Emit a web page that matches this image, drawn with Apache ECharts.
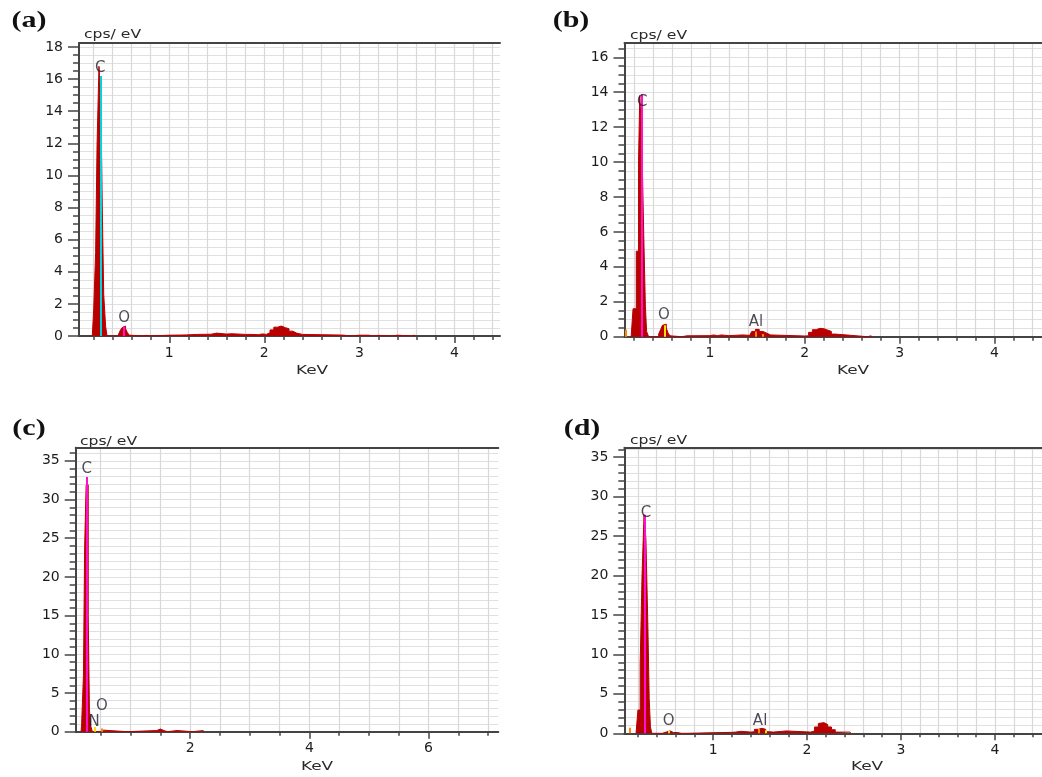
<!DOCTYPE html>
<html>
<head>
<meta charset="utf-8">
<script src="https://cdn.jsdelivr.net/npm/echarts/dist/echarts.min.js"></script>
<style>
html,body{margin:0;padding:0;background:#fff;}
#chart{width:1042px;height:777px;}
</style>
</head>
<body>
<div id="chart"></div>
<script>
// ================= DATA =================
const panelLetters = ['(a)', '(b)', '(c)', '(d)'];
const yAxisTitle = 'cps/ eV';
const xAxisTitle = 'KeV';

// axis ranges [min, max]
const xRangeA = [0.05, 4.48], yRangeA = [0, 18.25];
const xRangeB = [0.1, 4.5],  yRangeB = [0, 16.82];
const xRangeC = [0.08, 7.17], yRangeC = [0, 36.7];
const xRangeD = [0.055, 4.5], yRangeD = [0, 36.2];

// tick labels
const xMajorA = [1, 2, 3, 4];
const xMajorB = [1, 2, 3, 4];
const xMajorC = [2, 4, 6];
const xMajorD = [1, 2, 3, 4];
const yMajorA = [0, 2, 4, 6, 8, 10, 12, 14, 16, 18];
const yMajorB = [0, 2, 4, 6, 8, 10, 12, 14, 16];
const yMajorC = [0, 5, 10, 15, 20, 25, 30, 35];
const yMajorD = [0, 5, 10, 15, 20, 25, 30, 35];
// minor tick spacing [x, y]
const minorStepA = [0.2, 0.5];
const minorStepB = [0.2, 0.5];
const minorStepC = [0.5, 1];
const minorStepD = [0.2, 1];

// spectra [keV, cps/eV]
const spectrumA = [
  [0.19,0],[0.205,1.7],[0.225,5.2],[0.24,11.9],[0.26,16.8],[0.28,14.8],[0.295,7.9],[0.31,2.6],[0.33,0.6],[0.345,0],
  [0.46,0.1],[0.48,0.3],[0.50,0.5],[0.52,0.62],[0.54,0.45],[0.56,0.2],[0.58,0.05],[0.60,0],
  [0.72,0],[0.74,0.04],[0.76,0],[0.80,0.05],[1.0,0.06],[1.12,0.07],[1.18,0.1],[1.3,0.11],[1.44,0.12],[1.46,0.18],
  [1.5,0.12],[1.6,0.1],[1.62,0.14],[1.66,0.1],[1.8,0.1],[1.86,0.08],[1.94,0.13],[1.98,0.1],[2.02,0.2],[2.06,0.38],
  [2.10,0.55],[2.14,0.62],[2.18,0.52],[2.22,0.45],[2.26,0.3],[2.30,0.18],[2.34,0.1],[2.4,0.06],[2.8,0.05],[2.84,0],
  [2.9,0.05],[3.0,0],[3.02,0.05],[3.1,0],[3.14,0.04],[3.2,0],[3.34,0.05],[3.4,0],[3.54,0.05],[3.58,0]
];
const spectrumB = [
  [0.17,0],[0.19,1.6],[0.224,4.9],[0.248,10.1],[0.261,13.8],[0.282,11.4],[0.303,5.8],[0.32,1.75],[0.333,0.3],[0.354,0],
  [0.46,0.15],[0.48,0.4],[0.50,0.65],[0.52,0.72],[0.54,0.5],[0.56,0.2],[0.58,0.05],[0.60,0],
  [0.70,0],[0.72,0.05],[0.76,0],[0.78,0.06],[1.0,0.06],[1.02,0.1],[1.04,0.06],[1.08,0.1],[1.12,0.06],[1.2,0.1],
  [1.34,0.08],[1.42,0.12],[1.44,0.3],[1.48,0.42],[1.52,0.3],[1.56,0.2],[1.6,0.1],[1.64,0.04],[2.0,0.05],[2.04,0.25],
  [2.08,0.4],[2.12,0.48],[2.16,0.46],[2.2,0.38],[2.24,0.3],[2.28,0.15],[2.32,0.08],[2.48,0],[2.66,0.05],[2.7,0]
];
const spectrumC = [
  [0.17,0],[0.18,1.1],[0.21,7.3],[0.23,23.9],[0.255,31.9],[0.29,15.0],[0.31,2.9],[0.33,0.8],[0.36,0],
  [0.5,0.2],[0.55,0],
  [0.94,0],[0.96,0.15],[1.44,0.15],[1.46,0.35],[1.5,0.15],[1.56,0],[1.62,0.15],[1.78,0],[2.04,0.15],[2.22,0]
];
const spectrumD = [
  [0.18,0],[0.20,2.95],[0.224,8.8],[0.244,20.1],[0.265,27.7],[0.285,24.6],[0.306,13.5],[0.32,4.4],[0.333,0.85],[0.347,0],
  [0.46,0],[0.48,0.15],[0.5,0.3],[0.54,0.25],[0.56,0.1],[0.58,0],[0.60,0.1],[0.62,0],[0.66,0.1],[0.68,0],
  [0.72,0.12],[1.2,0.15],[1.24,0.25],[1.30,0.15],[1.40,0.2],[1.44,0.5],[1.48,0.63],[1.52,0.5],[1.56,0.2],[1.60,0.15],
  [1.64,0.3],[1.78,0.15],[2.04,0.3],[2.08,0.8],[2.12,1.25],[2.14,1.35],[2.18,1.1],[2.22,0.8],[2.26,0.45],[2.30,0.15],[2.46,0]
];

// element marker lines [keV, height]
const markersA = [[0.277, 16.2], [0.525, 0.6]];
const markersB = [[0.11, 0.4], [0.277, 13.9], [0.525, 0.65], [1.486, 0.3], [1.557, 0.15]];
const markersC = [[0.262, 32.9], [0.392, 0.6], [0.525, 0.4]];
const markersD = [[0.11, 0.7], [0.277, 27.7], [0.525, 0.3], [1.486, 0.55], [1.557, 0.4]];

// element labels [text, keV, cps/eV]
const elementLabelsA = [['C', 0.274, 16.67], ['O', 0.526, 1.1]];
const elementLabelsB = [['C', 0.286, 13.46], ['O', 0.516, 1.24], ['Al', 1.486, 0.86]];
const elementLabelsC = [['C', 0.267, 33.9], ['N', 0.39, 1.2], ['O', 0.52, 3.3]];
const elementLabelsD = [['C', 0.285, 27.97], ['O', 0.526, 1.56], ['Al', 1.50, 1.56]];

// ================= STYLE / LAYOUT =================
const CYAN = '#00d4dc', MAGENTA = '#ff10d0', YELLOW = '#ffe000', ORANGE = '#ff8a00';
const layout = [
  { rect: {left: 79, top: 43, width: 421, height: 293},
    markerColors: [CYAN, MAGENTA],
    letterPos: [29, 21], ytPos: [84, 35], xtPos: [312, 371] },
  { rect: {left: 624.5, top: 43, width: 426.5, height: 293.7},
    markerColors: [ORANGE, MAGENTA, YELLOW, ORANGE, ORANGE],
    letterPos: [571, 21], ytPos: [630, 36], xtPos: [853, 371] },
  { rect: {left: 75.7, top: 447.7, width: 422.6, height: 284},
    markerColors: [MAGENTA, YELLOW, ORANGE],
    letterPos: [29, 429], ytPos: [80, 441.5], xtPos: [317, 766.5] },
  { rect: {left: 624.3, top: 447.7, width: 431, height: 285.6},
    markerColors: [ORANGE, MAGENTA, YELLOW, ORANGE, YELLOW],
    letterPos: [582, 429], ytPos: [630, 441], xtPos: [867, 766.5] }
];
const FILL = '#b80000';
const AXIS_COLOR = '#444444';
const GRID_COLOR = '#d8d8d8';
const FONT = '"DejaVu Sans", Verdana, sans-serif';

const panels = [
  {xRange: xRangeA, yRange: yRangeA, xMajor: xMajorA, yMajor: yMajorA, minor: minorStepA, spectrum: spectrumA, markers: markersA, labels: elementLabelsA},
  {xRange: xRangeB, yRange: yRangeB, xMajor: xMajorB, yMajor: yMajorB, minor: minorStepB, spectrum: spectrumB, markers: markersB, labels: elementLabelsB},
  {xRange: xRangeC, yRange: yRangeC, xMajor: xMajorC, yMajor: yMajorC, minor: minorStepC, spectrum: spectrumC, markers: markersC, labels: elementLabelsC},
  {xRange: xRangeD, yRange: yRangeD, xMajor: xMajorD, yMajor: yMajorD, minor: minorStepD, spectrum: spectrumD, markers: markersD, labels: elementLabelsD}
];

function ticksWithin(range, step) {
  const out = [];
  const start = Math.ceil((range[0] - 1e-9) / step);
  for (let k = start; k * step <= range[1] + 1e-9; k++) out.push(Math.round(k * step * 1000) / 1000);
  return out;
}

const grid = [], xAxis = [], yAxis = [], series = [], graphic = [];

panels.forEach((p, i) => {
  const L = layout[i];
  grid.push(Object.assign({containLabel: false}, L.rect));
  const xMinor = ticksWithin(p.xRange, p.minor[0]);
  const yMinor = ticksWithin(p.yRange, p.minor[1]);
  const base = {gridIndex: i, type: 'value', min: p.xRange[0], max: p.xRange[1], silent: true};
  // minor ticks + grid lines + axis line
  xAxis.push(Object.assign({}, base, {
    position: 'bottom',
    axisLine: {show: true, onZero: false, lineStyle: {color: AXIS_COLOR, width: 2}},
    axisTick: {show: true, customValues: xMinor, length: 4, lineStyle: {color: AXIS_COLOR, width: 1.5}},
    axisLabel: {show: false},
    splitLine: {show: true, lineStyle: {color: GRID_COLOR, width: 1.2}}
  }));
  // major ticks + labels
  xAxis.push(Object.assign({}, base, {
    position: 'bottom',
    axisLine: {show: false, onZero: false},
    axisTick: {show: true, customValues: p.xMajor, length: 7, lineStyle: {color: AXIS_COLOR, width: 1.5}},
    axisLabel: {show: true, customValues: p.xMajor, margin: 10, color: '#1c1c1c', fontFamily: FONT, fontSize: 14},
    splitLine: {show: false}
  }));
  // top border
  xAxis.push(Object.assign({}, base, {
    position: 'top',
    axisLine: {show: true, onZero: false, lineStyle: {color: AXIS_COLOR, width: 2}},
    axisTick: {show: false}, axisLabel: {show: false}, splitLine: {show: false}
  }));
  const ybase = {gridIndex: i, type: 'value', min: p.yRange[0], max: p.yRange[1], position: 'left', silent: true};
  yAxis.push(Object.assign({}, ybase, {
    axisLine: {show: true, onZero: false, lineStyle: {color: AXIS_COLOR, width: 2}},
    axisTick: {show: true, customValues: yMinor, length: 6, lineStyle: {color: AXIS_COLOR, width: 1.5}},
    axisLabel: {show: false},
    splitLine: {show: true, lineStyle: {color: '#e0e0e0', width: 1.2}}
  }));
  yAxis.push(Object.assign({}, ybase, {
    axisLine: {show: false, onZero: false},
    axisTick: {show: true, customValues: p.yMajor, length: 11, lineStyle: {color: AXIS_COLOR, width: 1.5}},
    axisLabel: {show: true, customValues: p.yMajor, margin: 16, color: '#1c1c1c', fontFamily: FONT, fontSize: 14},
    splitLine: {show: false}
  }));

  const xi = i * 3, yi = i * 2;
  series.push({
    type: 'line', xAxisIndex: xi, yAxisIndex: yi,
    data: p.spectrum, step: 'end', symbol: 'none', silent: true,
    lineStyle: {color: FILL, width: 1},
    areaStyle: {color: FILL, opacity: 1},
    markLine: {
      silent: true, symbol: ['none', 'none'], label: {show: false},
      data: p.markers.map((m, k) => [
        {coord: [m[0], 0], lineStyle: {color: L.markerColors[k], width: 2, type: 'solid'}},
        {coord: [m[0], m[1]]}
      ])
    }
  });
  series.push({
    type: 'scatter', xAxisIndex: xi, yAxisIndex: yi, symbolSize: 0, silent: true, z: 5,
    data: p.labels.map(l => ({name: l[0], value: [l[1], l[2]]})),
    label: {show: true, position: 'inside', formatter: '{b}', color: '#231c2c',
            fontFamily: FONT, fontSize: 15}
  });

  graphic.push({type: 'text', x: L.letterPos[0], y: L.letterPos[1], scaleX: 1.25,
    style: {text: panelLetters[i], font: 'bold 24px "Liberation Serif", "Times New Roman", serif',
            fill: '#111', textAlign: 'center', textVerticalAlign: 'middle'}});
  graphic.push({type: 'text', x: L.ytPos[0], y: L.ytPos[1], scaleX: 1.2,
    style: {text: yAxisTitle, font: '13px ' + FONT, fill: '#2a2a2a', textAlign: 'left', textVerticalAlign: 'middle'}});
  graphic.push({type: 'text', x: L.xtPos[0], y: L.xtPos[1], scaleX: 1.3,
    style: {text: xAxisTitle, font: '13px ' + FONT, fill: '#2a2a2a', textAlign: 'center', textVerticalAlign: 'middle'}});
});

const chart = echarts.init(document.getElementById('chart'), null, {renderer: 'canvas'});
chart.setOption({
  animation: false,
  backgroundColor: '#ffffff',
  grid, xAxis, yAxis, series, graphic
});
</script>
</body>
</html>
